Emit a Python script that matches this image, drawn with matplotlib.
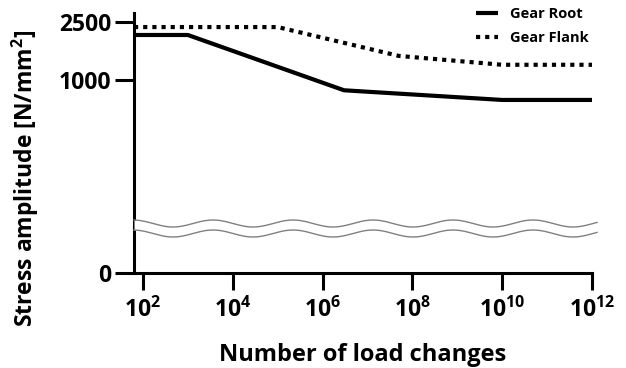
import numpy as np
import matplotlib
matplotlib.use("Agg")
import matplotlib.pyplot as plt
from matplotlib.ticker import FixedLocator, NullLocator

plt.rcParams['font.family'] = ['Open Sans', 'DejaVu Sans']
plt.rcParams['font.weight'] = 'bold'
plt.rcParams['mathtext.fontset'] = 'custom'
plt.rcParams['mathtext.rm'] = 'Open Sans:bold'
plt.rcParams['mathtext.bf'] = 'Open Sans:bold'
plt.rcParams['mathtext.it'] = 'Open Sans:bold'

# S-N curves (number of load changes vs stress amplitude in N/mm^2)
root_n = [10**1.8, 1e3, 3e6, 1e10, 1e12]
root_s = [2030, 2030, 850, 730, 730]
flank_n = [10**1.8, 1e5, 5e7, 1e10, 1e12]
flank_s = [2300, 2300, 1460, 1270, 1270]

xtick_exp = [2, 4, 6, 8, 10, 12]
ytick_vals = [0, 1000, 2500]


# broken axis: log above 100, compressed linear part down to 0
def fwd(v):
    v = np.asarray(v, dtype=float)
    return np.where(v >= 100, np.log10(np.maximum(v, 100)), 2 - 0.32 * (100 - v) / 100)


def inv(u):
    u = np.asarray(u, dtype=float)
    return np.where(u >= 2, 10 ** np.minimum(u, 10), 100 - (2 - u) * 100 / 0.32)


W, H = 626, 368
fig = plt.figure(figsize=(W / 100, H / 100), dpi=100)
L, R, T, B = 134, 592, 13, 273
ax = fig.add_axes([L / W, (H - B) / H, (R - L) / W, (B - T) / H])

ax.plot(root_n, root_s, color='black', lw=3.0, label='Gear Root', solid_capstyle='butt')
ax.plot(flank_n, flank_s, color='black', lw=3.0, linestyle=(0, (1, 1.2)), label='Gear Flank')

ax.set_xscale('log')
ax.set_yscale('function', functions=(fwd, inv))
ax.set_xlim(10**1.8, 1e12)
ax.set_ylim(0, 2870)

ax.xaxis.set_major_locator(FixedLocator([10.0**e for e in xtick_exp]))
ax.xaxis.set_minor_locator(NullLocator())
ax.set_xticklabels([r'$\mathbf{10^{%d}}$' % e for e in xtick_exp])
ax.yaxis.set_major_locator(FixedLocator(ytick_vals))
ax.yaxis.set_minor_locator(NullLocator())
ax.set_yticklabels([str(v) for v in ytick_vals])

for s in ['top', 'right']:
    ax.spines[s].set_visible(False)
for s in ['left', 'bottom']:
    ax.spines[s].set_linewidth(2.2)

ax.tick_params(axis='y', length=13.5, width=2.2, pad=3, labelsize=16.5)
ax.tick_params(axis='x', length=12, width=2.2, pad=6, labelsize=16.5)

ax.set_xlabel('Number of load changes', fontsize=17, fontweight='bold')
ax.xaxis.set_label_coords(0.5, -0.27)
ax.set_ylabel('Stress amplitude [N/mm$^2$]', fontsize=16.5, fontweight='bold')
ax.yaxis.set_label_coords(-0.202, 0.365)

# axis break marks (wavy double line)
px = np.linspace(134, 597, 400)
wave = 3.5 * np.cos(2 * np.pi * (px - 133) / 80)
y_top = 223.5 - wave
y_bot = 233.5 - wave
xa = (px - L) / (R - L)
ya_top = (B - y_top) / (B - T)
ya_bot = (B - y_bot) / (B - T)
ax.fill_between(xa, ya_bot, ya_top, color='white', transform=ax.transAxes,
                clip_on=False, zorder=4, lw=0)
ax.plot(xa, ya_top, color='#808080', lw=1.0, transform=ax.transAxes, clip_on=False, zorder=5)
ax.plot(xa, ya_bot, color='#808080', lw=1.0, transform=ax.transAxes, clip_on=False, zorder=5)

leg = fig.legend(loc='upper right', bbox_to_anchor=(0.945, 0.988), frameon=False,
                 fontsize=10.5, handlelength=1.5, handletextpad=0.8, labelspacing=0.65,
                 borderaxespad=0, borderpad=0.2)

fig.savefig('out.png', dpi=100)
